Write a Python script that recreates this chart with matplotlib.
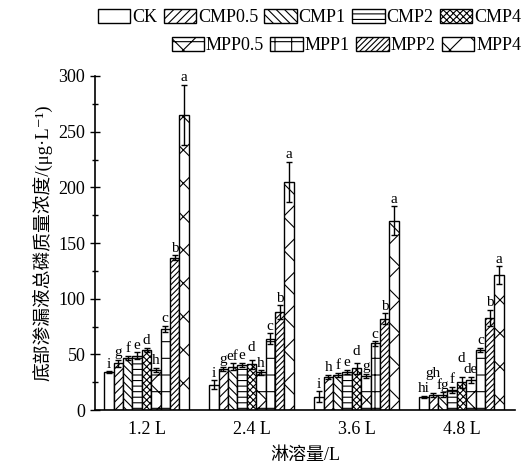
import numpy as np
import matplotlib
matplotlib.use('Agg')
import matplotlib.pyplot as plt
from matplotlib.patches import Patch

plt.rcParams['font.family'] = ['Liberation Serif', 'Noto Sans CJK SC', 'DejaVu Sans']
plt.rcParams['hatch.linewidth'] = 0.8

# 数据
volumes = ['1.2 L', '2.4 L', '3.6 L', '4.8 L']
treatments = ['CK', 'CMP0.5', 'CMP1', 'CMP2', 'CMP4', 'MPP0.5', 'MPP1', 'MPP2', 'MPP4']
hatches = ['', '////', '\\\\\\\\', '---', 'xxxxx', 'x-', '+', '//////', 'x']

ck = [34, 23, 12, 12]
cmp05 = [42, 37, 30, 13.5]
cmp1 = [47, 39, 31.5, 14]
cmp2 = [49, 40.5, 34.5, 18]
cmp4 = [54, 41, 37.5, 25]
mpp05 = [36, 34, 30.5, 27]
mpp1 = [73, 64, 60, 54]
mpp2 = [137, 88, 82, 83]
mpp4 = [265, 205, 170, 121]
values = [ck, cmp05, cmp1, cmp2, cmp4, mpp05, mpp1, mpp2, mpp4]

err_ck = [1, 4, 5, 1]
err_cmp05 = [3, 2, 2, 2]
err_cmp1 = [2, 3, 2, 2]
err_cmp2 = [3, 2, 2, 3]
err_cmp4 = [2, 4, 5, 5]
err_mpp05 = [2, 2, 2, 3]
err_mpp1 = [3, 5, 2, 2]
err_mpp2 = [2, 6, 5, 7]
err_mpp4 = [27, 18, 13, 8]
errors = [err_ck, err_cmp05, err_cmp1, err_cmp2, err_cmp4,
          err_mpp05, err_mpp1, err_mpp2, err_mpp4]

letters = [
    ['i', 'g', 'f', 'e', 'd', 'h', 'c', 'b', 'a'],
    ['i', 'g', 'ef', 'e', 'd', 'h', 'c', 'b', 'a'],
    ['i', 'h', 'f', 'e', 'd', 'g', 'c', 'b', 'a'],
    ['hi', 'gh', 'fg', 'f', 'd', 'de', 'c', 'b', 'a'],
]
# 字母额外上移（避免重叠）
lift = [
    [0, 0, 0, 0, 0, 0, 0, 0, 0],
    [0, 0, 0, 0, 5, 0, 0, 0, 0],
    [0, 0, 0, 0, 4, 0, 0, 0, 0],
    [0, 11, 0, 0, 10, 0, 0, 0, 0],
]

fig = plt.figure(figsize=(5.31, 4.72), dpi=100)
ax = fig.add_axes([0.179, 0.131, 0.791, 0.708])

x = np.arange(len(volumes))
w = 0.0895
n = len(treatments)
for j in range(n):
    pos = x + (j - (n - 1) / 2) * w
    ax.bar(pos, values[j], w, yerr=errors[j], color='white', edgecolor='black',
           hatch=hatches[j], linewidth=1.0,
           error_kw=dict(ecolor='black', elinewidth=1.0, capsize=2.5, capthick=1.0))
    for i in range(len(volumes)):
        ax.text(pos[i], values[j][i] + errors[j][i] + 0.5 + lift[i][j], letters[i][j],
                ha='center', va='bottom', fontsize=11)

ax.set_xlim(-0.49, 3.51)
ax.set_ylim(0, 300)
ax.set_yticks(np.arange(0, 301, 50))
ax.set_yticks(np.arange(0, 301, 25), minor=True)
ax.set_xticks(x)
ax.set_xticklabels(volumes)
ax.tick_params(axis='y', direction='inout', length=7, width=1, labelsize=13)
ax.tick_params(axis='y', which='minor', direction='inout', length=4, width=1)
ax.tick_params(axis='x', length=0, labelsize=13, pad=8)
ax.spines['top'].set_visible(False)
ax.spines['right'].set_visible(False)
ax.spines['left'].set_linewidth(1.2)
ax.spines['bottom'].set_linewidth(1.2)

ax.set_ylabel('底部渗漏液总磷质量浓度/(μg·L⁻¹)', fontsize=13.5, labelpad=4)
ax.set_xlabel('淋溶量/L', fontsize=13, labelpad=6)

handles = [Patch(facecolor='white', edgecolor='black', hatch=hatches[j], label=treatments[j])
           for j in range(n)]
kw = dict(frameon=False, fontsize=13, handlelength=1.8, handleheight=0.85,
          handletextpad=0.1, columnspacing=0.35, borderaxespad=0)
fig.legend(handles=handles[:5], ncol=5, loc='upper right',
           bbox_to_anchor=(0.995, 0.997), **kw)
fig.legend(handles=handles[5:], ncol=4, loc='upper right',
           bbox_to_anchor=(0.995, 0.937), **kw)

fig.savefig('out.png', dpi=100)
